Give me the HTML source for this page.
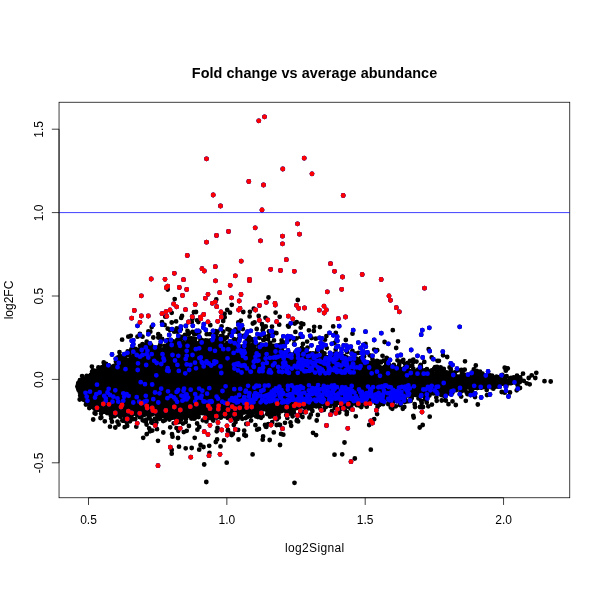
<!DOCTYPE html>
<html><head><meta charset="utf-8"><title>Fold change vs average abundance</title>
<style>html,body{margin:0;padding:0;background:#fff}body{width:600px;height:600px;position:relative;overflow:hidden;font-family:"Liberation Sans",sans-serif}</style></head>
<body>
<svg width="600" height="600" viewBox="0 0 600 600" style="position:absolute;left:0;top:0;will-change:transform">
<rect width="600" height="600" fill="#fff"/>
<polygon points="77.0,385.0 80.0,382.0 86.0,378.0 93.0,374.0 102.0,370.0 110.0,366.0 118.0,362.0 127.0,358.0 135.0,355.0 143.0,352.0 160.0,348.0 177.0,345.0 193.0,343.0 227.0,345.0 260.0,350.0 293.0,353.0 327.0,356.0 345.0,359.0 360.0,363.0 393.0,367.0 427.0,371.0 460.0,374.5 493.0,377.5 510.0,379.5 519.0,381.0 519.0,381.0 510.0,383.0 493.0,385.0 460.0,389.0 427.0,394.0 393.0,398.0 360.0,401.0 327.0,403.0 293.0,406.0 277.0,409.0 260.0,412.0 227.0,413.0 193.0,414.0 160.0,414.0 127.0,414.0 110.0,413.0 100.0,411.0 93.0,409.0 88.0,405.0 84.0,400.0 80.0,393.0 77.0,387.0" fill="#000"/>
<path d="M220.8 336.2h0M109.2 365.6h0M102.8 370.5h0M269.5 351.0h0M265.5 350.3h0M176.1 321.4h0M333.2 326.4h0M205.6 343.6h0M214.0 343.4h0M335.2 354.5h0M320.2 355.9h0M168.4 342.9h0M216.5 339.9h0M210.1 334.2h0M185.4 338.5h0M204.8 343.6h0M262.6 349.8h0M294.1 344.2h0M416.5 361.6h0M216.3 337.2h0M334.5 342.8h0M371.9 356.7h0M441.9 372.1h0M373.9 361.3h0M151.6 350.5h0M418.1 369.7h0M250.6 348.8h0M276.4 333.2h0M200.6 340.4h0M144.0 350.9h0M180.6 338.0h0M193.7 339.2h0M240.9 320.6h0M383.6 360.6h0M377.2 350.2h0M431.3 370.7h0M123.0 360.5h0M106.9 367.9h0M228.0 346.1h0M144.2 349.6h0M349.6 358.9h0M231.2 345.5h0M283.9 352.4h0M122.4 359.4h0M445.0 373.8h0M142.1 353.2h0M311.5 338.1h0M386.1 364.3h0M151.2 345.4h0M422.9 370.5h0M177.7 342.2h0M89.9 376.0h0M192.1 316.5h0M275.6 312.6h0M174.9 344.5h0M167.7 328.7h0M366.9 364.2h0M289.2 339.6h0M224.6 313.8h0M252.8 323.5h0M398.8 367.9h0M435.1 367.1h0M232.6 345.6h0M365.5 343.9h0M269.6 336.1h0M170.7 344.2h0M183.8 342.6h0M263.0 329.6h0M234.1 339.2h0M313.1 355.6h0M272.4 352.1h0M431.8 370.3h0M399.0 366.5h0M307.1 341.6h0M124.1 358.7h0M200.0 338.0h0M326.4 336.1h0M273.8 345.9h0M304.4 349.6h0M313.8 330.9h0M495.3 377.5h0M137.9 351.1h0M109.2 367.1h0M374.2 349.6h0M145.6 344.8h0M506.6 376.2h0M253.8 308.7h0M446.6 372.5h0M305.9 353.2h0M218.4 345.3h0M323.0 356.5h0M224.2 339.4h0M123.5 360.3h0M422.9 371.0h0M264.5 336.0h0M191.8 322.0h0M330.3 356.8h0M265.8 326.5h0M358.7 362.9h0M457.2 370.6h0M278.5 345.4h0M488.4 377.9h0M311.0 354.6h0M148.7 350.0h0M215.5 332.5h0M205.7 343.0h0M231.1 344.0h0M321.7 351.0h0M492.0 375.7h0M268.9 335.6h0M251.5 339.2h0M359.4 360.4h0M101.1 371.1h0M406.0 368.6h0M202.2 341.4h0M281.0 347.6h0M193.9 312.2h0M319.9 327.1h0M214.4 345.3h0M246.4 342.7h0M166.2 347.9h0M194.3 339.6h0M95.5 372.9h0M180.4 339.2h0M249.9 311.8h0M143.4 345.8h0M138.9 349.9h0M384.8 366.8h0M136.1 354.9h0M355.7 353.6h0M294.2 339.7h0M409.2 366.2h0M369.7 355.3h0M189.0 341.8h0M400.8 361.6h0M246.9 338.6h0M362.4 363.0h0M189.7 341.2h0M329.1 356.8h0M196.3 333.7h0M377.0 361.0h0M283.3 352.0h0M473.8 369.4h0M492.7 377.5h0M276.6 350.4h0M496.8 377.7h0M139.9 333.8h0M302.9 344.0h0M179.7 340.0h0M88.0 376.3h0M277.1 351.2h0M229.7 329.9h0M449.6 367.5h0M205.7 340.3h0M237.2 344.6h0M98.4 367.4h0M203.8 342.1h0M195.0 342.2h0M242.8 329.0h0M320.9 356.0h0M402.2 361.6h0M363.2 364.0h0M488.5 377.0h0M229.6 334.3h0M510.5 379.3h0M210.6 340.5h0M151.3 349.3h0M174.7 299.1h0M276.8 350.6h0M117.3 362.9h0M183.2 338.0h0M260.3 344.3h0M244.3 348.0h0M200.2 343.2h0M300.5 336.8h0M172.9 344.3h0M254.5 322.5h0M86.7 376.0h0M337.7 354.6h0M187.3 343.3h0M308.9 330.3h0M397.5 360.3h0M280.1 352.5h0M424.3 361.9h0M363.6 363.4h0M188.8 334.1h0M126.8 354.9h0M335.8 356.3h0M343.9 356.8h0M281.5 343.6h0M181.2 317.9h0M389.9 367.5h0M298.2 349.6h0M191.2 321.5h0M177.7 342.4h0M263.7 349.4h0M301.2 323.3h0M215.4 343.0h0M175.3 343.4h0M160.2 344.7h0M142.0 351.7h0M509.5 380.4h0M103.7 362.5h0M223.2 321.1h0M408.4 364.4h0M245.1 345.1h0M152.2 348.4h0M233.1 345.7h0M505.1 379.4h0M269.0 346.0h0M242.5 346.4h0M238.7 347.5h0M259.4 337.8h0M95.0 373.9h0M485.5 375.5h0M476.0 376.4h0M193.4 340.7h0M199.4 331.7h0M495.8 378.4h0M288.0 325.8h0M248.6 344.2h0M296.1 352.5h0M346.6 357.3h0M237.7 346.9h0M164.6 345.9h0M105.7 366.3h0M221.6 326.3h0M515.6 381.3h0M119.8 356.0h0M275.5 347.6h0M352.4 350.8h0M207.4 340.6h0M404.7 367.9h0M185.9 326.2h0M333.8 353.9h0M179.7 336.7h0M517.0 381.0h0M483.0 377.0h0M129.9 336.3h0M335.9 354.6h0M192.4 318.4h0M124.0 355.1h0M173.6 345.3h0M167.6 340.2h0M366.3 364.7h0M222.3 343.9h0M215.6 331.1h0M320.3 355.5h0M252.5 340.7h0M117.5 357.6h0M258.9 347.5h0M500.2 378.2h0M235.6 329.3h0M164.6 346.3h0M265.1 346.8h0M149.2 345.7h0M116.5 361.6h0M301.0 351.7h0M308.4 354.3h0M294.8 323.5h0M164.6 324.9h0M249.2 340.7h0M443.1 369.2h0M175.6 330.5h0M445.2 373.2h0M254.5 345.8h0M131.6 349.4h0M475.4 375.3h0M413.3 362.0h0M129.3 353.4h0M355.4 358.4h0M335.7 349.4h0M275.4 352.2h0M351.8 359.6h0M280.5 347.1h0M124.5 357.0h0M117.7 359.7h0M422.3 371.2h0M300.7 327.6h0M438.9 360.8h0M295.4 331.9h0M150.3 331.7h0M106.1 363.9h0M199.1 343.0h0M300.0 352.5h0M193.7 340.6h0M93.4 374.4h0M474.6 373.9h0M128.1 352.7h0M236.7 340.2h0M334.5 357.3h0M252.0 347.0h0M237.0 342.3h0M155.5 349.7h0M441.0 370.4h0M371.7 365.4h0M92.0 373.2h0M268.9 331.5h0M135.6 349.0h0M86.9 377.5h0M124.2 358.9h0M336.1 356.6h0M354.0 361.2h0M492.8 378.2h0M119.5 352.2h0M424.3 370.5h0M326.7 348.1h0M274.0 340.4h0M187.3 344.3h0M313.0 353.4h0M494.8 378.4h0M347.0 352.1h0M438.1 372.0h0M210.3 325.2h0M407.9 363.0h0M277.9 351.6h0M180.1 342.1h0M195.1 339.0h0M427.1 370.9h0M173.3 346.5h0M192.6 332.0h0M222.1 342.1h0M183.2 336.7h0M384.6 342.0h0M285.5 342.5h0M398.7 366.6h0M171.1 346.4h0M481.4 377.4h0M230.1 346.2h0M358.4 352.9h0M238.4 332.3h0M472.7 372.7h0M124.6 359.4h0M204.6 343.8h0M413.3 368.6h0M265.2 348.8h0M202.5 340.4h0M219.4 339.2h0M90.8 374.9h0M420.2 366.1h0M315.8 338.7h0M152.6 349.0h0M295.2 352.4h0M296.6 338.3h0M192.7 341.1h0M172.3 341.1h0M125.8 359.1h0M234.9 342.7h0M472.3 372.3h0M88.2 377.1h0M245.4 346.4h0M281.6 340.3h0M231.7 345.2h0M406.4 366.7h0M420.4 370.7h0M282.1 350.6h0M162.1 338.9h0M451.6 374.2h0M186.9 338.4h0M148.5 350.2h0M122.1 339.7h0M270.1 342.8h0M124.5 357.5h0M92.1 371.6h0M384.9 360.6h0M282.7 344.7h0M256.7 329.0h0M267.9 339.3h0M264.0 339.8h0M378.7 362.1h0M216.0 344.4h0M263.3 340.1h0M356.5 358.6h0M279.1 348.0h0M158.3 337.5h0M249.6 316.4h0M148.4 331.3h0M307.5 347.7h0M317.2 349.9h0M360.8 358.2h0M259.2 345.6h0M170.3 345.8h0M251.3 347.7h0M131.3 349.4h0M234.8 348.3h0M198.8 344.4h0M82.9 381.1h0M263.7 349.9h0M233.3 347.5h0M176.6 344.3h0M494.3 378.2h0M174.2 344.1h0M251.0 350.3h0M134.4 354.1h0M436.5 372.0h0M285.3 352.7h0M177.3 339.9h0M233.8 346.0h0M440.5 370.9h0M284.8 353.7h0M320.4 357.3h0M447.2 374.4h0M454.7 375.5h0M244.0 349.1h0M266.2 352.3h0M78.2 383.2h0M201.9 345.1h0M211.0 344.8h0M267.3 350.6h0M369.7 365.4h0M489.4 375.1h0M102.3 368.2h0M479.2 375.1h0M139.3 351.7h0M358.1 364.7h0M82.1 376.1h0M368.2 365.6h0M122.1 362.1h0M180.7 343.4h0M230.8 347.4h0M478.4 374.9h0M151.6 347.3h0M347.1 358.4h0M373.8 361.9h0M426.9 369.2h0M164.6 346.8h0M312.7 354.0h0M271.7 348.6h0M323.4 357.2h0M181.0 346.4h0M295.9 355.3h0M284.4 354.1h0M295.2 353.9h0M316.6 352.9h0M79.9 380.2h0M284.8 352.6h0M372.4 362.7h0M243.5 348.5h0M503.5 380.8h0M359.8 362.9h0M89.7 376.0h0M380.1 361.7h0M223.7 338.2h0M303.7 354.7h0M475.5 378.0h0M395.9 367.4h0M227.3 342.9h0M239.6 347.7h0M310.3 353.5h0M170.6 347.1h0M264.5 350.8h0M444.1 374.2h0M444.5 373.9h0M300.7 355.2h0M301.9 347.9h0M367.6 362.7h0M223.9 346.2h0M209.9 344.2h0M358.9 361.5h0M94.8 372.6h0M470.2 375.9h0M99.1 372.7h0M79.8 384.0h0M486.1 377.0h0M369.2 362.9h0M481.0 376.5h0M350.8 360.6h0M386.2 366.4h0M379.4 367.0h0M373.1 365.4h0M415.6 371.6h0M157.5 350.7h0M420.9 367.1h0M368.1 365.2h0M442.2 371.4h0M326.6 357.5h0M211.1 345.1h0M218.4 345.5h0M361.9 359.5h0M101.3 370.7h0M94.5 375.3h0M436.8 372.4h0M484.9 377.7h0M83.3 380.9h0M339.8 354.2h0M512.5 380.7h0M260.1 352.0h0M363.2 365.1h0M144.4 353.8h0M79.1 382.5h0M131.0 351.2h0M116.1 360.7h0M134.3 357.4h0M396.4 369.0h0M402.7 369.9h0M99.3 370.1h0M393.8 365.0h0M401.0 369.9h0M356.1 361.4h0M281.5 348.2h0M189.8 338.3h0M395.4 369.5h0M83.5 379.5h0M439.9 374.4h0M215.1 343.6h0M150.7 348.0h0M292.9 355.1h0M240.2 347.3h0M271.8 350.8h0M141.3 351.3h0M238.3 346.6h0M356.6 363.1h0M248.3 347.0h0M496.5 376.7h0M328.7 357.7h0M103.9 363.2h0M389.2 364.9h0M224.4 345.0h0M511.0 377.9h0M343.9 360.2h0M267.3 348.0h0M244.2 347.3h0M344.2 356.1h0M435.5 373.4h0M77.7 385.8h0M264.6 350.7h0M439.3 369.7h0M95.8 371.0h0M437.4 369.9h0M330.9 358.2h0M454.9 372.5h0M381.0 362.4h0M231.0 347.6h0M322.8 354.3h0M166.0 346.1h0M490.7 378.9h0M346.5 359.1h0M283.6 353.8h0M190.1 342.5h0M428.5 372.0h0M115.9 361.6h0M419.8 371.8h0M334.3 354.4h0M470.0 376.0h0M288.6 352.8h0M161.0 349.6h0M157.2 348.2h0M238.1 347.1h0M255.7 349.9h0M143.2 354.1h0M519.7 382.2h0M124.1 359.3h0M426.6 372.8h0M342.2 359.8h0M307.6 356.4h0M91.9 366.6h0M461.5 375.4h0M328.8 357.8h0M423.0 371.5h0M497.2 377.0h0M440.6 367.4h0M189.8 345.5h0M166.2 348.7h0M114.1 366.0h0M324.5 353.5h0M280.5 347.6h0M481.0 378.5h0M342.5 359.7h0M130.2 351.9h0M191.2 343.6h0M361.4 358.5h0M374.4 365.8h0M276.1 353.3h0M505.8 370.7h0M175.4 347.4h0M190.6 344.5h0M477.8 373.2h0M448.7 375.4h0M426.1 370.4h0M364.1 356.4h0M101.8 372.0h0M412.2 365.3h0M377.5 366.5h0M339.6 357.2h0M123.8 360.8h0M191.1 345.1h0M290.7 354.6h0M182.9 346.1h0M377.9 367.3h0M395.4 369.0h0M93.0 370.4h0M174.9 341.6h0M461.8 372.0h0M139.1 354.4h0M120.1 357.5h0M451.0 373.6h0M277.8 352.9h0M442.4 373.4h0M355.9 363.8h0M175.4 347.4h0M393.9 367.5h0M141.3 350.4h0M195.3 344.2h0M146.1 352.8h0M449.8 374.7h0M151.5 350.7h0M218.2 341.5h0M127.7 351.5h0M102.2 367.1h0M373.7 366.3h0M289.0 354.1h0M191.5 344.9h0M238.7 338.6h0M520.2 377.5h0M120.3 362.4h0M474.9 377.9h0M399.6 369.2h0M511.5 381.9h0M435.3 373.2h0M139.2 355.6h0M446.5 373.6h0M159.5 349.1h0M481.9 378.2h0M330.7 358.5h0M157.0 347.7h0M393.0 368.7h0M112.2 366.9h0M347.2 360.3h0M198.6 345.0h0M348.9 359.5h0M437.3 372.4h0M166.8 348.8h0M402.3 369.1h0M397.4 369.6h0M436.9 373.4h0M450.8 371.3h0M295.9 355.4h0M481.1 377.2h0M464.2 376.4h0M159.6 346.4h0M240.0 348.8h0M241.8 347.5h0M79.1 383.5h0M274.9 352.0h0M130.6 356.1h0M439.5 370.1h0M219.5 344.0h0M246.3 347.1h0M104.2 366.6h0M500.6 379.1h0M304.9 354.6h0M315.6 357.1h0M506.5 380.7h0M158.0 350.4h0M188.2 342.1h0M90.4 377.5h0M387.3 368.0h0M84.9 379.0h0M333.0 357.6h0M389.0 368.5h0M463.1 374.2h0M97.1 374.1h0M296.2 354.0h0M201.2 345.4h0M257.1 351.4h0M339.8 356.0h0M142.4 352.6h0M408.5 370.6h0M443.8 368.9h0M249.6 349.4h0M449.8 374.0h0M252.7 344.9h0M421.9 371.7h0M183.7 345.5h0M270.4 344.4h0M434.1 368.6h0M438.9 370.3h0M100.8 371.1h0M502.3 374.8h0M187.7 344.7h0M357.9 401.1h0M312.7 402.2h0M269.3 413.4h0M86.2 400.8h0M507.5 383.4h0M493.0 383.5h0M436.3 397.6h0M469.8 385.6h0M361.9 400.1h0M378.2 397.7h0M317.8 415.0h0M352.8 399.7h0M308.0 405.5h0M499.2 382.3h0M212.6 419.6h0M130.4 413.6h0M501.5 383.0h0M196.2 413.5h0M314.0 402.8h0M132.0 412.1h0M207.4 415.6h0M205.0 412.3h0M116.0 414.9h0M449.8 389.4h0M330.2 405.9h0M166.3 415.0h0M281.6 411.0h0M349.1 400.6h0M214.9 413.4h0M175.4 413.7h0M247.1 417.0h0M82.3 395.1h0M459.7 387.6h0M324.2 402.3h0M203.5 447.0h0M208.2 415.6h0M147.4 412.2h0M463.8 386.9h0M104.5 411.7h0M272.3 411.1h0M125.5 413.1h0M502.9 382.4h0M145.6 414.4h0M233.5 413.8h0M350.6 408.5h0M441.6 390.4h0M405.0 400.1h0M414.3 394.2h0M425.5 396.5h0M483.1 384.1h0M463.6 386.4h0M417.0 394.2h0M298.1 421.4h0M330.9 401.5h0M425.0 399.6h0M346.7 400.4h0M277.8 410.8h0M398.0 395.8h0M250.5 416.3h0M247.7 411.2h0M426.5 398.7h0M298.8 404.4h0M158.8 414.3h0M141.4 413.7h0M335.2 400.8h0M485.6 384.0h0M451.5 393.5h0M502.7 381.8h0M266.3 426.9h0M81.7 393.9h0M327.8 404.2h0M485.6 384.8h0M316.1 435.1h0M306.7 404.0h0M381.2 399.1h0M235.8 413.1h0M232.9 433.8h0M377.4 398.4h0M120.9 413.8h0M255.0 412.2h0M331.9 411.1h0M505.2 381.8h0M272.4 414.7h0M519.3 379.0h0M312.4 411.0h0M152.8 412.7h0M511.4 383.0h0M304.6 403.0h0M474.2 387.9h0M441.3 395.0h0M471.3 386.8h0M146.4 412.6h0M304.2 406.6h0M160.5 412.3h0M356.8 403.4h0M233.8 424.9h0M359.6 399.0h0M259.7 414.0h0M213.2 420.6h0M78.7 388.5h0M450.9 390.8h0M373.6 397.9h0M298.1 407.8h0M195.1 414.7h0M313.0 432.8h0M332.1 401.4h0M130.9 412.8h0M414.2 393.5h0M121.4 412.4h0M309.0 405.7h0M349.2 407.4h0M104.6 409.7h0M419.1 394.2h0M394.7 396.3h0M152.2 413.9h0M121.2 415.7h0M335.5 402.4h0M276.7 408.1h0M101.3 417.5h0M335.7 406.0h0M272.2 414.7h0M187.7 411.9h0M490.3 387.0h0M216.8 417.7h0M439.3 391.1h0M344.5 405.4h0M297.0 419.9h0M184.9 413.2h0M396.0 396.6h0M214.3 417.2h0M292.1 412.8h0M185.1 412.3h0M236.1 412.1h0M508.4 381.2h0M326.3 401.5h0M314.0 402.9h0M256.0 410.4h0M131.7 415.4h0M233.0 412.8h0M161.9 412.6h0M182.3 412.1h0M371.9 398.4h0M146.2 419.7h0M118.1 411.8h0M447.7 389.1h0M273.8 412.0h0M434.4 391.3h0M233.7 414.2h0M244.3 434.9h0M169.4 419.6h0M301.1 404.5h0M278.0 407.0h0M390.7 397.4h0M476.4 385.6h0M240.4 412.6h0M347.0 400.0h0M464.3 386.6h0M304.8 404.3h0M197.1 423.5h0M247.9 413.1h0M329.1 402.5h0M250.1 410.3h0M155.6 424.6h0M219.5 414.1h0M125.4 416.1h0M237.5 412.4h0M208.8 411.9h0M215.2 411.9h0M133.0 419.1h0M202.4 413.0h0M480.6 387.6h0M468.9 387.5h0M135.7 413.7h0M90.1 405.7h0M371.6 399.7h0M260.2 412.7h0M387.5 397.6h0M452.9 388.3h0M356.2 400.0h0M128.2 416.6h0M402.9 400.0h0M95.0 407.4h0M148.9 413.2h0M211.6 412.6h0M94.4 408.4h0M360.4 399.1h0M449.7 390.9h0M395.2 396.0h0M270.1 416.7h0M232.0 410.7h0M447.4 393.3h0M204.1 411.6h0M456.2 390.0h0M98.0 408.6h0M126.4 420.2h0M170.3 418.2h0M409.8 394.2h0M385.4 397.3h0M408.9 401.2h0M201.8 411.8h0M497.2 383.3h0M490.0 384.0h0M404.9 401.9h0M355.9 400.1h0M101.1 413.6h0M267.2 410.5h0M489.1 383.6h0M415.3 393.2h0M389.0 403.5h0M193.0 414.0h0M507.4 382.7h0M318.5 402.1h0M103.4 411.2h0M259.8 410.4h0M214.9 412.3h0M390.9 397.8h0M182.6 413.9h0M305.8 403.8h0M492.5 383.7h0M209.9 417.6h0M140.0 417.0h0M225.1 415.7h0M320.4 408.7h0M152.1 414.4h0M342.8 402.9h0M417.2 395.4h0M127.8 413.7h0M237.1 411.1h0M103.8 410.9h0M164.5 414.9h0M275.9 407.8h0M221.1 412.8h0M238.2 411.9h0M108.9 410.6h0M517.5 381.0h0M114.3 413.2h0M512.2 381.5h0M125.3 413.0h0M269.8 409.6h0M318.1 401.6h0M485.3 385.9h0M355.7 403.8h0M366.8 399.5h0M186.2 412.2h0M89.3 408.1h0M449.8 388.7h0M159.5 418.8h0M452.5 390.7h0M151.8 422.0h0M445.7 390.5h0M222.0 412.6h0M443.4 389.7h0M240.6 416.6h0M241.0 415.3h0M183.3 412.1h0M328.7 402.5h0M441.0 393.6h0M478.9 386.9h0M296.5 407.3h0M146.9 412.6h0M335.0 400.7h0M382.5 397.0h0M273.8 432.4h0M116.8 411.3h0M272.1 409.2h0M398.0 395.2h0M450.3 394.0h0M426.4 392.6h0M202.8 420.3h0M305.5 403.8h0M227.4 415.3h0M372.8 400.5h0M478.4 385.0h0M208.3 413.0h0M327.1 403.0h0M163.8 412.0h0M220.7 415.9h0M508.3 382.3h0M461.2 396.6h0M504.0 382.1h0M437.1 390.5h0M377.3 398.8h0M208.9 418.1h0M500.0 382.4h0M364.4 400.1h0M229.5 416.8h0M89.4 404.5h0M378.3 398.1h0M114.8 416.1h0M242.2 412.8h0M261.9 415.2h0M327.8 401.7h0M127.7 412.9h0M472.2 386.0h0M126.8 422.5h0M189.5 412.1h0M312.7 403.6h0M294.2 405.3h0M177.6 418.1h0M127.2 413.2h0M338.3 400.5h0M258.2 410.1h0M272.2 422.2h0M321.4 403.6h0M413.1 393.9h0M516.9 379.9h0M122.3 420.6h0M251.0 410.6h0M503.3 383.0h0M421.1 392.7h0M421.6 392.7h0M182.2 413.1h0M83.7 399.5h0M171.6 412.7h0M391.1 398.4h0M471.6 386.3h0M464.2 388.5h0M484.4 385.4h0M151.6 420.8h0M228.6 414.8h0M379.2 405.0h0M131.5 412.8h0M404.3 407.0h0M397.5 395.3h0M345.1 400.2h0M320.7 404.4h0M127.2 425.9h0M376.8 397.8h0M162.8 415.9h0M449.1 389.4h0M127.4 411.9h0M126.0 414.9h0M159.3 417.3h0M205.8 414.8h0M246.1 411.4h0M465.7 386.8h0M383.1 404.2h0M498.3 382.2h0M229.0 412.0h0M299.8 407.3h0M432.4 391.1h0M157.9 416.0h0M378.7 399.4h0M288.2 405.1h0M452.2 389.4h0M464.6 387.1h0M110.7 412.6h0M173.0 417.7h0M338.6 400.3h0M152.4 412.9h0M284.7 410.6h0M249.2 411.3h0M79.7 391.9h0M225.2 410.9h0M281.0 433.9h0M97.1 408.2h0M374.9 398.9h0M198.4 413.7h0M193.4 418.5h0M311.5 408.2h0M517.5 379.2h0M325.9 403.6h0M464.3 390.2h0M358.1 400.6h0M238.1 413.0h0M430.1 393.9h0M493.8 384.9h0M212.0 415.4h0M405.4 397.3h0M359.0 399.6h0M321.5 404.0h0M103.8 410.2h0M220.5 446.4h0M290.8 405.1h0M185.1 413.8h0M232.1 411.1h0M80.2 395.5h0M278.2 408.0h0M329.5 402.5h0M152.0 412.0h0M210.9 414.2h0M399.6 396.3h0M493.2 383.6h0M486.0 384.3h0M112.5 411.8h0M334.7 408.1h0M235.5 422.2h0M267.2 414.0h0M107.1 413.0h0M476.2 385.1h0M191.3 412.0h0M150.1 412.5h0M389.8 397.2h0M254.4 410.6h0M344.7 409.4h0M364.8 398.7h0M402.8 408.8h0M343.9 399.9h0M436.4 397.3h0M228.5 411.2h0M160.6 417.1h0M465.7 387.1h0M486.8 384.1h0M222.1 414.9h0M365.1 400.8h0M378.5 397.8h0M102.5 411.4h0M97.2 409.2h0M225.5 416.2h0M342.4 400.4h0M282.7 405.8h0M487.8 384.0h0M515.5 379.7h0M349.6 401.7h0M223.1 411.7h0M146.3 412.2h0M417.6 393.3h0M438.4 390.7h0M316.2 406.4h0M323.4 403.1h0M344.1 401.7h0M406.0 394.7h0M392.9 402.2h0M421.5 392.9h0M420.0 407.0h0M278.2 407.4h0M309.4 417.4h0M135.5 411.8h0M288.2 410.9h0M420.7 393.1h0M516.3 379.7h0M412.9 393.6h0M89.4 404.3h0M103.7 410.5h0M323.5 402.1h0M494.2 383.0h0M143.3 413.0h0M404.6 398.3h0M149.0 412.0h0M422.5 392.7h0M513.2 381.1h0M359.4 399.6h0M432.4 393.1h0M220.8 417.7h0M124.9 418.7h0M106.1 411.6h0M255.4 425.2h0M103.6 410.7h0M259.0 428.9h0M496.6 383.0h0M176.5 413.9h0M193.5 413.4h0M179.7 413.5h0M414.1 394.8h0M209.5 452.9h0M173.2 414.0h0M146.6 424.6h0M463.0 386.7h0M410.7 400.8h0M202.5 412.7h0M292.6 416.3h0M148.7 414.5h0M342.3 402.8h0M334.2 404.2h0M170.2 427.3h0M237.0 414.7h0M460.3 387.3h0M460.6 391.9h0M209.1 411.5h0M126.5 418.9h0M81.2 398.3h0M144.0 414.9h0M120.3 412.3h0M380.1 397.1h0M227.8 430.5h0M395.1 399.0h0M512.0 380.4h0M181.2 416.1h0M383.1 396.9h0M301.1 403.6h0M268.1 409.2h0M85.9 404.5h0M217.5 427.9h0M130.5 413.2h0M137.3 415.2h0M156.5 414.6h0M142.7 420.3h0M299.3 403.5h0M234.0 416.0h0M484.9 384.1h0M172.5 436.7h0M469.1 386.9h0M198.2 413.2h0M194.5 412.0h0M96.2 410.2h0M258.2 412.1h0M238.0 410.5h0M382.5 398.5h0M318.5 405.7h0M383.5 403.2h0M465.1 389.5h0M254.3 411.0h0M263.1 436.5h0M248.9 411.5h0M259.0 411.0h0M520.3 378.8h0M346.9 412.2h0M190.1 414.5h0M244.4 412.4h0M165.1 412.1h0M451.3 392.7h0M480.4 384.4h0M385.2 398.3h0M363.9 399.8h0M217.1 439.5h0M77.4 386.6h0M455.9 389.4h0M340.0 409.3h0M181.1 419.3h0M407.0 394.9h0M393.2 398.0h0M310.7 404.1h0M377.7 399.0h0M356.2 400.4h0M176.1 418.8h0M194.6 418.6h0M287.1 412.4h0M308.8 403.6h0M175.2 412.9h0M488.7 383.9h0M309.6 406.3h0M438.1 390.4h0M153.5 423.3h0M281.4 408.3h0M444.4 396.2h0M462.3 386.6h0M246.3 424.0h0M440.1 390.0h0M145.3 413.7h0M122.6 412.4h0M433.6 393.3h0M278.0 406.8h0M252.6 454.4h0M385.6 397.4h0M289.4 413.6h0M413.9 393.6h0M379.0 399.2h0M308.2 403.0h0M241.6 413.6h0M246.2 410.3h0M166.2 417.8h0M102.6 409.6h0M395.9 396.9h0M220.9 411.8h0M447.4 389.0h0M359.4 402.2h0M166.5 415.7h0M428.8 392.8h0M242.0 410.7h0M273.5 408.6h0M393.4 397.3h0M258.1 412.7h0M437.0 391.7h0M248.1 412.6h0M487.6 383.9h0M508.3 381.7h0M242.3 418.8h0M223.3 411.1h0M412.7 395.4h0M310.5 403.6h0M477.2 388.0h0M88.4 404.0h0M282.4 409.7h0M449.8 388.9h0M287.3 417.9h0M272.3 409.4h0M304.2 412.2h0M374.6 399.7h0M255.3 410.3h0M378.8 398.4h0M418.5 398.4h0M129.4 412.3h0M111.2 418.4h0M122.2 411.7h0M411.5 397.0h0M101.4 410.7h0M392.7 398.8h0M101.3 410.7h0M262.6 416.0h0M520.2 379.6h0M464.1 386.7h0M225.4 412.9h0M79.7 399.5h0M199.0 412.5h0M216.0 413.5h0M458.3 387.9h0M303.9 405.8h0M99.7 409.2h0M461.8 391.0h0M457.3 387.5h0M166.7 412.2h0M315.4 402.7h0M283.1 409.9h0M336.2 401.1h0M432.8 391.7h0M485.2 384.4h0M99.7 410.1h0M313.7 403.0h0M327.8 402.7h0M198.5 416.3h0M206.4 421.4h0M433.3 391.9h0M278.8 424.7h0M274.5 412.6h0M102.6 411.6h0M360.8 398.8h0M460.0 387.0h0M341.8 400.3h0M486.5 385.3h0M432.5 391.8h0M376.2 402.5h0M207.9 412.0h0M449.2 388.9h0M484.5 384.0h0M121.8 412.0h0M425.2 396.0h0M261.1 417.8h0M191.4 418.5h0M381.5 397.6h0M102.2 410.9h0M95.5 413.7h0M207.4 412.1h0M335.4 402.2h0M325.9 401.2h0M481.9 385.0h0M450.5 388.4h0M431.9 404.6h0M250.8 410.2h0M245.7 418.1h0M176.2 413.9h0M118.6 414.4h0M400.3 395.8h0M378.4 397.7h0M444.9 389.2h0M487.0 395.1h0M494.1 383.2h0M206.1 414.9h0M410.2 394.8h0M489.8 383.4h0M292.2 408.0h0M342.4 403.7h0M116.3 411.4h0M197.4 429.7h0M452.4 388.2h0M487.5 383.5h0M342.9 405.9h0M229.9 433.4h0M368.5 398.1h0M224.9 415.6h0M186.8 415.6h0M156.4 422.3h0M209.4 411.5h0M325.3 401.5h0M321.9 404.1h0M341.4 403.0h0M92.0 406.8h0M120.2 416.6h0M135.6 413.7h0M233.7 414.3h0M371.4 398.1h0M152.3 430.6h0M224.2 416.1h0M464.8 387.9h0M143.2 412.0h0M467.3 386.2h0M297.3 404.9h0M129.2 415.3h0M149.8 413.6h0M302.0 405.5h0M164.8 413.1h0M167.3 412.8h0M183.5 417.4h0M299.8 415.3h0M83.7 399.8h0M293.9 412.4h0M330.3 402.7h0M178.8 422.1h0M145.2 412.5h0M90.7 406.5h0M307.0 403.2h0M472.4 385.5h0M333.9 400.9h0M341.3 407.4h0M392.6 395.9h0M186.1 418.8h0M513.4 380.1h0M351.5 405.0h0M438.7 390.5h0M436.9 392.4h0M485.9 383.7h0M494.5 383.6h0M257.8 410.1h0M185.7 422.0h0M378.4 397.4h0M229.9 411.9h0M165.0 412.4h0M224.0 440.4h0M519.8 379.5h0M290.0 408.2h0M423.0 395.5h0M410.6 397.8h0M165.4 414.3h0M452.5 392.5h0M118.0 413.5h0M232.0 412.0h0M505.8 381.9h0M408.0 394.6h0M444.8 392.2h0M478.7 387.6h0M446.6 390.6h0M339.1 402.9h0M443.4 391.1h0M463.6 387.3h0M503.7 382.0h0M497.0 382.6h0M507.0 382.0h0M188.9 426.0h0M180.0 412.4h0M280.3 407.9h0M295.7 408.3h0M381.3 402.5h0M251.1 414.3h0M429.4 395.5h0M495.1 383.7h0M257.4 410.6h0M366.7 401.2h0M227.8 417.9h0M448.3 390.3h0M79.0 390.2h0M84.3 398.2h0M437.7 392.0h0M345.5 400.7h0M225.9 412.7h0M234.0 415.8h0M352.0 400.9h0M116.1 411.7h0M388.3 398.8h0M370.5 400.6h0M130.6 418.3h0M95.4 409.6h0M158.7 414.0h0M502.2 382.0h0M176.5 428.1h0M347.9 403.4h0M252.1 415.3h0M501.4 382.3h0M515.9 379.8h0M445.8 389.1h0M311.1 402.2h0M154.9 418.8h0M278.8 417.5h0M188.4 413.0h0M121.8 415.6h0M459.8 387.5h0M244.2 430.7h0M473.8 386.1h0M110.7 415.2h0M274.2 415.4h0M237.6 418.9h0M357.6 399.8h0M308.8 408.4h0M479.8 385.0h0M238.5 439.5h0M102.3 411.8h0M380.5 400.6h0M275.8 410.5h0M472.7 388.4h0M409.9 393.9h0M221.4 412.1h0M500.1 383.4h0M141.2 417.4h0M333.1 400.5h0M251.1 420.6h0M361.8 399.2h0M415.5 394.5h0M318.7 402.6h0M511.3 382.0h0M434.4 392.1h0M245.9 435.7h0M392.1 397.8h0M200.2 413.0h0M332.4 403.6h0M429.4 392.9h0M139.1 413.4h0M466.6 386.5h0M404.8 394.7h0M215.5 411.6h0M209.1 412.7h0M506.3 386.4h0M160.1 412.7h0M496.0 382.9h0M219.5 412.7h0M125.1 413.3h0M251.9 411.4h0M504.8 381.9h0M167.6 417.9h0M276.9 419.3h0M359.9 401.4h0M216.8 412.4h0M413.1 394.3h0M325.1 406.6h0M411.2 394.1h0M238.1 429.9h0M312.0 402.8h0M356.8 400.4h0M419.5 392.7h0M444.0 391.9h0M234.0 418.5h0M194.9 414.0h0M108.0 411.6h0M411.7 398.2h0M260.3 414.3h0M126.4 413.7h0M363.3 404.3h0M358.5 404.5h0M420.9 393.2h0M494.5 385.2h0M228.7 412.2h0M434.7 392.1h0M159.5 416.9h0M313.1 405.9h0M374.2 401.4h0M136.3 414.3h0M106.3 410.9h0M299.9 413.6h0M373.5 399.0h0M256.2 416.4h0M198.6 417.1h0M427.1 398.3h0M144.1 414.4h0M411.8 396.4h0M475.9 386.8h0M406.9 401.3h0M365.1 401.9h0M135.3 419.1h0M389.5 397.6h0M199.1 412.2h0M344.9 402.8h0M198.2 413.6h0M176.4 412.1h0M377.1 414.1h0M433.1 391.4h0M387.5 396.6h0M449.3 388.8h0M78.5 389.8h0M138.6 412.5h0M103.2 411.8h0M323.4 404.1h0M94.6 413.1h0M126.1 412.2h0M356.5 401.0h0M224.0 413.3h0M173.7 423.3h0M169.8 416.5h0M436.1 393.0h0M90.5 406.4h0M89.6 406.1h0M265.2 409.1h0M356.7 405.1h0M336.7 401.1h0M304.4 407.6h0M177.5 417.2h0M519.1 380.9h0M503.8 381.8h0M514.9 379.8h0M289.2 404.8h0M278.6 414.2h0M391.5 396.9h0M228.7 412.4h0M255.9 410.8h0M163.2 421.1h0M306.2 403.8h0M164.8 420.3h0M164.3 412.6h0M325.8 407.0h0M509.0 381.7h0M498.0 386.7h0M397.8 397.2h0M104.9 410.7h0M82.8 397.3h0M397.6 399.6h0M194.1 413.0h0M149.7 418.4h0M517.2 379.4h0M96.6 408.5h0M234.7 417.0h0M434.2 392.8h0M122.4 411.7h0M145.3 421.4h0M286.2 415.1h0M481.8 387.6h0M288.5 408.2h0M134.0 412.5h0M327.2 402.1h0M169.9 413.9h0M86.4 403.1h0M392.3 408.8h0M512.4 380.6h0M402.2 396.8h0M437.5 392.4h0M136.4 411.9h0M172.0 414.1h0M245.2 410.3h0M445.7 390.7h0M282.9 406.0h0M471.7 386.1h0M108.5 412.2h0M354.3 402.9h0M292.1 409.7h0M168.3 412.5h0M479.2 385.6h0M123.2 413.2h0M133.1 413.1h0M279.6 408.4h0M359.6 404.6h0M272.2 407.8h0M398.7 395.4h0M286.0 406.2h0M375.8 403.1h0M183.5 414.7h0M384.3 399.5h0M139.9 417.2h0M343.0 400.1h0M182.9 423.6h0M178.6 415.5h0M426.9 394.1h0M358.5 405.3h0M94.0 407.2h0M510.4 383.1h0M93.9 407.1h0M183.8 432.1h0M174.5 414.7h0M490.1 385.2h0M485.2 384.0h0M145.1 411.9h0M413.2 393.6h0M509.1 382.8h0M160.0 415.9h0M149.3 416.5h0M124.0 414.5h0M472.0 391.4h0M78.0 388.2h0M323.8 409.9h0M300.1 405.1h0M341.0 407.8h0M111.5 411.0h0M319.2 403.3h0M253.2 410.0h0M407.8 394.2h0M445.4 390.9h0M280.3 407.0h0M365.6 398.7h0M267.5 409.4h0M510.5 381.1h0M233.5 411.4h0M401.2 397.8h0M453.7 388.1h0M240.2 411.4h0M415.5 393.8h0M346.3 406.3h0M418.3 392.8h0M110.3 411.0h0M384.5 400.7h0M307.9 403.7h0M257.9 417.0h0M365.0 402.5h0M402.3 401.6h0M482.3 385.5h0M395.2 395.7h0M379.3 400.2h0M268.3 424.2h0M156.8 418.8h0M273.1 416.3h0M189.2 412.8h0M231.7 413.7h0M119.1 412.4h0M512.5 381.8h0M490.9 384.1h0M448.5 404.2h0M411.2 394.1h0M187.9 415.9h0M86.3 400.9h0M470.5 391.8h0M222.9 415.1h0M421.1 400.8h0M429.8 392.3h0M123.6 420.7h0M216.3 413.9h0M240.0 416.4h0M505.7 381.4h0M167.7 289.5h0M171.7 312.8h0M165.3 316.7h0M182.0 316.0h0M196.0 312.0h0M162.0 322.2h0M171.7 322.5h0M151.7 327.0h0M197.0 320.3h0M198.3 322.0h0M128.3 336.7h0M130.8 335.8h0M137.5 336.7h0M142.5 336.7h0M153.3 337.5h0M158.3 334.2h0M160.0 335.8h0M174.2 331.7h0M176.7 328.3h0M187.5 330.8h0M188.3 332.5h0M193.3 332.5h0M268.5 297.5h0M297.8 300.0h0M216.3 299.5h0M231.8 304.8h0M227.2 309.8h0M230.0 312.7h0M243.3 312.0h0M224.7 317.3h0M258.7 316.0h0M265.5 317.8h0M279.7 316.8h0M296.7 322.2h0M303.3 324.2h0M279.2 324.7h0M272.0 326.7h0M288.7 326.7h0M262.0 324.2h0M263.0 326.7h0M238.3 322.5h0M262.7 330.0h0M275.0 332.8h0M217.5 331.7h0M223.3 331.7h0M222.5 335.8h0M236.7 331.7h0M240.0 336.7h0M243.3 335.8h0M249.2 337.5h0M226.7 337.5h0M314.2 326.8h0M392.8 330.2h0M335.8 332.8h0M352.5 333.7h0M325.0 339.7h0M345.8 340.0h0M93.2 419.5h0M100.5 418.0h0M104.8 421.3h0M112.0 421.7h0M117.5 421.7h0M118.7 424.5h0M110.0 426.7h0M115.3 427.5h0M124.7 427.2h0M130.0 421.3h0M136.3 426.7h0M145.8 421.7h0M149.2 428.3h0M150.0 431.3h0M146.7 434.2h0M143.2 437.8h0M158.0 440.8h0M157.0 429.2h0M151.3 422.5h0M163.3 432.5h0M172.0 434.2h0M178.0 438.0h0M194.7 437.8h0M199.3 427.0h0M215.8 442.0h0M200.5 445.0h0M209.2 445.8h0M199.2 449.7h0M179.0 446.7h0M185.7 448.3h0M191.7 448.0h0M171.7 450.0h0M171.7 453.7h0M204.2 464.5h0M226.7 462.7h0M206.3 482.0h0M231.7 435.0h0M245.5 435.8h0M257.2 429.7h0M216.7 431.3h0M228.0 430.0h0M178.3 430.8h0M186.7 430.8h0M310.8 414.7h0M302.5 417.0h0M316.7 420.5h0M296.7 420.8h0M290.5 422.5h0M291.2 425.8h0M285.0 422.8h0M283.3 434.7h0M262.7 439.7h0M269.7 440.0h0M280.0 445.0h0M265.0 425.0h0M265.8 426.7h0M276.7 425.0h0M280.0 425.0h0M344.5 442.5h0M334.5 454.7h0M342.2 454.3h0M354.8 458.5h0M294.5 482.8h0M346.7 414.2h0M355.8 416.3h0M339.2 412.5h0M374.2 419.2h0M369.2 425.0h0M370.8 449.7h0M413.3 415.8h0M413.7 417.5h0M429.7 416.7h0M422.7 425.0h0M419.7 427.5h0M414.7 404.2h0M415.0 407.0h0M421.7 403.0h0M423.0 407.0h0M428.3 406.3h0M390.8 407.5h0M377.5 407.0h0M400.0 405.0h0M455.8 405.0h0M426.7 402.5h0M436.7 400.8h0M441.7 400.5h0M445.8 400.5h0M452.5 401.3h0M388.3 404.2h0M395.8 406.3h0M361.3 407.0h0M366.7 406.7h0M465.0 361.3h0M475.8 365.5h0M504.7 367.7h0M507.8 368.3h0M523.0 373.7h0M536.3 372.8h0M531.7 375.3h0M528.7 378.0h0M535.3 378.0h0M517.0 375.7h0M513.7 377.5h0M544.5 381.2h0M550.7 381.5h0M523.7 380.8h0M526.7 383.3h0M529.7 384.3h0M519.7 380.0h0M517.5 385.0h0M520.0 388.0h0M516.7 390.3h0M510.0 392.5h0M501.7 392.0h0M504.7 392.7h0M493.3 388.7h0M486.7 390.0h0M474.2 393.3h0M475.0 397.0h0M467.5 394.2h0M465.8 400.8h0M477.8 404.5h0M466.7 392.5h0M470.8 389.2h0M463.3 390.0h0M461.3 370.0h0M464.7 369.7h0M476.7 370.8h0M480.0 371.7h0M478.3 374.2h0M482.5 373.7h0M474.2 375.0h0M470.0 376.7h0M465.0 375.0h0M461.7 376.7h0M463.3 380.0h0M468.3 380.0h0M473.3 380.0h0M478.3 380.0h0M483.3 380.0h0M488.3 380.0h0M493.3 380.0h0M498.3 380.0h0M503.3 380.0h0M508.3 380.8h0M511.7 381.7h0M462.5 383.3h0M467.5 384.2h0M472.5 383.3h0M477.5 384.2h0M482.5 383.3h0M487.5 383.3h0M492.5 383.7h0M497.5 383.3h0M502.5 383.7h0M507.5 383.7h0M490.0 377.5h0M495.0 377.5h0M500.0 378.0h0M505.0 378.3h0M510.0 379.2h0M485.0 377.5h0M465.0 386.7h0M470.0 386.7h0M476.7 387.5h0M483.3 387.0h0M495.8 386.7h0M491.7 386.7h0M398.0 341.3h0M396.2 348.0h0M428.7 349.2h0M443.0 355.3h0M447.2 357.0h0M437.5 360.8h0M431.7 357.5h0M382.5 355.8h0M386.7 358.0h0M376.7 362.5h0M372.5 359.2h0M403.3 360.0h0M410.0 360.8h0M413.3 359.7h0M405.0 363.7h0M399.2 364.7h0M420.8 365.0h0M437.0 367.0h0M450.8 369.2h0M180.8 329.2h0M170.0 330.0h0M177.5 331.7h0M194.2 334.2h0M185.0 335.0h0M191.7 338.3h0M206.7 334.2h0M216.7 333.3h0M227.5 329.2h0M142.5 344.2h0M140.0 345.8h0M146.7 341.7h0M258.8 120.8h0M264.5 116.8h0M206.5 158.8h0M304.2 158.2h0M282.8 169.0h0M312.0 173.8h0M248.8 181.5h0M263.5 185.0h0M213.2 195.0h0M220.5 206.0h0M262.0 210.0h0M297.5 223.8h0M255.2 227.8h0M228.5 231.5h0M216.5 235.5h0M299.5 234.2h0M282.5 236.2h0M206.5 242.2h0M260.5 240.8h0M282.5 243.8h0M343.2 195.5h0M187.3 255.5h0M202.0 268.7h0M204.3 271.0h0M174.3 273.3h0M151.2 279.0h0M165.0 279.3h0M183.5 279.7h0M166.3 287.7h0M167.7 286.2h0M179.3 287.5h0M186.7 289.5h0M182.5 295.5h0M141.3 295.8h0M208.0 294.3h0M205.3 298.3h0M173.7 304.0h0M176.7 306.8h0M195.2 304.5h0M185.5 309.7h0M134.3 310.5h0M170.0 310.0h0M166.0 311.7h0M162.0 313.7h0M166.8 316.3h0M141.3 316.0h0M148.3 316.0h0M131.7 318.2h0M140.0 322.3h0M192.3 316.8h0M203.7 314.5h0M200.5 317.2h0M200.8 318.8h0M188.5 322.0h0M208.0 321.8h0M286.3 259.7h0M241.2 261.2h0M215.3 266.7h0M270.7 269.3h0M280.5 270.5h0M294.3 271.3h0M235.3 275.8h0M249.5 279.3h0M249.5 280.7h0M215.5 280.8h0M230.2 285.3h0M219.7 292.7h0M241.0 294.5h0M231.5 297.8h0M239.2 301.0h0M215.3 301.8h0M212.3 303.3h0M216.7 306.7h0M266.3 302.3h0M275.0 303.3h0M275.3 305.0h0M259.5 305.5h0M296.5 305.3h0M298.7 308.3h0M304.5 308.0h0M240.0 308.3h0M238.7 310.0h0M255.5 310.0h0M221.0 312.0h0M221.3 317.0h0M217.7 321.3h0M288.3 316.2h0M292.8 318.8h0M259.3 320.3h0M267.8 320.0h0M276.7 321.7h0M330.5 263.7h0M334.5 271.3h0M342.5 277.0h0M362.2 274.5h0M381.2 279.5h0M341.7 289.3h0M327.3 291.8h0M389.0 296.0h0M390.5 300.3h0M324.0 306.2h0M319.3 310.2h0M326.3 310.0h0M324.2 313.0h0M396.3 307.7h0M399.3 311.8h0M345.5 317.0h0M338.3 318.7h0M424.5 288.2h0M158.0 465.7h0M97.0 407.8h0M115.3 413.0h0M128.3 411.2h0M131.7 412.8h0M139.7 413.3h0M127.2 419.0h0M137.2 423.3h0M155.3 411.3h0M155.3 425.5h0M225.0 414.2h0M234.7 414.2h0M216.3 416.2h0M205.0 417.8h0M230.8 420.3h0M218.0 422.5h0M176.7 421.2h0M175.8 422.8h0M210.0 425.3h0M227.0 425.8h0M247.8 423.8h0M180.2 428.3h0M221.7 430.0h0M235.3 429.5h0M204.2 431.7h0M208.0 434.5h0M227.3 435.0h0M170.3 447.2h0M190.8 457.2h0M209.0 455.7h0M220.0 454.3h0M286.7 407.2h0M294.2 405.8h0M295.8 404.2h0M299.2 405.0h0M303.7 404.2h0M300.3 410.8h0M305.8 412.0h0M261.3 413.0h0M287.0 415.3h0M297.5 415.5h0M275.3 418.3h0M271.0 425.0h0M282.5 428.7h0M327.5 403.7h0M321.3 410.3h0M330.5 414.7h0M335.8 413.3h0M337.5 409.2h0M343.3 408.3h0M341.2 403.7h0M348.3 404.2h0M352.5 409.7h0M358.3 403.7h0M326.5 425.5h0M347.8 428.3h0M351.0 461.7h0M365.8 403.7h0M370.0 403.7h0M376.3 410.3h0M392.2 405.0h0M370.8 420.8h0M372.5 423.0h0M422.0 412.0h0M230.7 341.6h0M297.8 353.5h0M255.3 338.8h0M341.6 358.0h0M280.6 346.7h0M345.2 358.4h0M288.0 350.5h0M311.5 345.3h0M307.9 356.3h0M259.8 347.0h0M296.0 351.5h0M276.5 345.6h0M331.8 343.8h0M298.7 350.3h0M255.8 342.5h0M285.9 352.1h0M319.6 355.1h0M280.7 351.8h0M309.1 355.8h0M354.5 355.2h0M346.2 350.3h0M336.2 355.2h0M265.9 344.7h0M347.5 348.8h0M244.9 342.6h0M261.9 345.0h0M310.2 335.8h0M346.5 361.9h0M283.5 346.2h0M303.3 354.4h0M244.6 337.0h0M299.2 349.9h0M338.3 355.7h0M338.2 356.2h0M335.4 357.0h0M318.2 347.5h0M406.7 366.8h0M321.7 343.7h0M353.1 363.6h0M294.6 344.6h0M284.4 352.7h0M488.1 371.4h0M303.6 354.0h0M352.9 363.6h0M316.7 355.9h0M352.0 354.3h0M335.8 355.0h0M245.6 335.3h0M363.6 360.6h0M363.1 354.3h0M337.4 340.8h0M325.6 345.1h0M337.4 355.5h0M287.8 336.1h0M331.3 359.0h0M287.2 338.9h0M322.6 344.0h0M363.1 350.9h0M230.1 341.4h0M261.3 334.6h0M350.3 359.2h0M343.7 345.4h0M244.3 346.0h0M349.6 358.7h0M366.9 362.1h0M270.8 331.1h0M318.1 349.6h0M239.9 338.6h0M306.7 350.5h0M293.3 338.1h0M350.8 346.7h0M354.1 358.7h0M342.1 356.4h0M331.1 353.9h0M291.6 354.6h0M341.6 349.2h0M346.4 345.7h0M334.5 359.3h0M336.6 353.6h0M290.6 355.1h0M330.1 356.7h0M341.3 352.6h0M232.9 332.1h0M361.6 353.2h0M358.3 342.6h0M360.5 348.0h0M234.7 343.2h0M321.9 347.4h0M312.4 354.4h0M239.2 341.1h0M365.1 362.7h0M325.9 358.1h0M298.1 354.9h0M336.5 358.8h0M284.8 346.2h0M246.7 333.5h0M319.6 337.8h0M338.1 346.2h0M238.5 346.1h0M320.7 342.8h0M238.4 345.4h0M330.0 353.0h0M297.3 349.8h0M347.2 346.7h0M354.3 355.5h0M336.4 347.3h0M321.9 338.3h0M239.7 335.3h0M239.6 328.4h0M287.0 342.1h0M275.5 351.5h0M351.6 353.6h0M391.1 395.7h0M434.8 390.5h0M389.1 400.0h0M376.7 398.7h0M377.2 399.9h0M445.7 396.0h0M361.9 400.7h0M355.1 399.7h0M374.3 400.6h0M362.4 399.4h0M409.1 393.6h0M316.2 401.2h0M403.5 395.8h0M378.8 397.9h0M380.9 397.5h0M396.6 394.6h0M474.3 394.5h0M361.5 399.5h0M420.9 396.2h0M347.8 399.0h0M392.1 395.5h0M397.3 400.0h0M347.0 399.3h0M382.0 400.7h0M475.2 393.5h0M365.6 400.5h0M393.6 398.1h0M382.5 399.2h0M393.0 395.3h0M398.6 396.6h0M453.5 390.7h0M388.2 398.7h0M372.3 397.0h0M426.9 394.3h0M398.0 395.0h0M459.8 394.2h0M393.3 396.9h0M356.7 398.4h0M378.7 396.5h0M353.8 401.0h0M451.3 394.6h0M404.6 396.7h0M400.7 398.4h0M320.7 401.1h0M380.2 397.9h0M427.3 398.4h0M437.4 393.7h0M408.6 395.1h0M340.8 400.3h0M341.3 399.3h0M331.3 401.8h0M506.0 390.8h0M322.6 402.0h0M308.1 401.7h0M391.3 400.4h0M451.5 391.5h0M355.6 398.8h0M365.9 398.8h0M381.5 400.6h0M344.6 401.3h0M397.8 397.4h0M362.4 399.7h0M366.0 397.7h0M421.3 395.2h0M309.1 402.3h0M470.6 395.1h0M376.9 397.9h0M375.9 396.6h0M389.0 399.8h0M436.6 392.2h0M356.6 400.5h0M396.6 397.9h0M351.6 399.0h0M355.5 399.2h0M382.7 396.7h0M360.8 399.9h0M397.5 398.0h0M343.5 400.1h0M397.1 399.4h0M390.7 399.4h0M399.2 394.3h0M341.0 401.0h0M366.8 398.5h0M137.5 325.8h0M153.0 325.0h0M162.2 324.7h0M172.0 329.2h0M180.8 326.7h0M185.8 325.8h0M192.8 325.8h0M203.8 324.2h0M140.0 335.0h0M148.3 334.2h0M180.0 330.8h0M196.7 330.8h0M205.8 330.0h0M203.3 327.5h0M238.3 324.7h0M242.0 325.5h0M290.8 323.3h0M220.8 329.2h0M213.0 330.8h0M234.2 330.8h0M247.5 331.7h0M250.8 330.8h0M257.5 334.2h0M263.7 333.3h0M272.0 331.3h0M272.5 335.8h0M283.3 336.3h0M290.8 336.7h0M300.8 334.2h0M302.5 336.7h0M231.7 335.8h0M213.3 337.5h0M339.2 326.2h0M353.2 330.2h0M365.5 331.7h0M381.3 333.2h0M329.5 332.8h0M333.3 335.3h0M337.2 336.7h0M336.7 339.7h0M374.2 340.0h0M459.7 326.8h0M429.3 327.8h0M422.3 330.2h0M421.2 334.7h0M376.7 401.7h0M384.2 401.7h0M396.7 401.3h0M400.8 403.3h0M404.2 400.5h0M373.3 400.8h0M410.0 400.5h0M468.0 374.7h0M471.7 373.0h0M485.8 375.5h0M501.5 375.3h0M514.5 382.3h0M517.8 388.7h0M474.2 385.8h0M480.7 387.0h0M489.2 386.7h0M499.7 386.7h0M505.8 386.7h0M490.0 394.5h0M481.2 397.5h0M508.5 396.5h0M460.0 388.0h0M388.3 343.8h0M411.2 350.0h0M429.7 351.2h0M442.8 351.7h0M417.5 355.8h0M422.7 357.5h0M433.3 359.2h0M450.8 363.3h0M452.5 365.0h0M457.0 368.7h0M363.3 345.0h0M365.8 346.7h0M367.5 352.5h0M375.8 351.3h0M372.5 355.8h0M362.5 358.0h0M397.5 355.8h0M400.8 355.0h0M390.0 360.0h0M388.3 363.0h0M392.5 366.7h0M396.7 368.3h0M404.2 369.2h0M420.0 367.5h0M427.5 373.7h0M453.3 375.0h0M169.2 335.0h0M178.3 335.8h0M198.3 330.8h0M185.0 338.3h0M199.2 336.7h0M213.3 335.8h0M220.8 339.2h0M131.7 340.8h0M133.3 344.2h0M150.0 343.3h0M160.8 341.7h0M165.8 340.8h0M170.8 340.0h0M179.2 343.3h0M187.5 345.8h0M201.7 342.5h0M212.5 340.0h0M133.3 351.7h0M145.8 347.5h0M147.5 350.8h0M155.0 347.5h0M171.7 345.0h0M180.0 345.8h0M220.8 345.8h0M136.7 355.0h0M142.5 355.0h0M133.3 340.3h0M132.5 345.8h0M141.7 350.0h0M112.0 354.5h0M124.2 354.2h0M127.5 352.8h0M115.8 358.8h0M118.7 363.0h0M108.3 365.3h0" fill="none" stroke="#000" stroke-width="4.8" stroke-linecap="round"/>
<path d="M258.8 120.8h0M264.5 116.8h0M206.5 158.8h0M304.2 158.2h0M282.8 169.0h0M312.0 173.8h0M248.8 181.5h0M263.5 185.0h0M213.2 195.0h0M220.5 206.0h0M262.0 210.0h0M297.5 223.8h0M255.2 227.8h0M228.5 231.5h0M216.5 235.5h0M299.5 234.2h0M282.5 236.2h0M206.5 242.2h0M260.5 240.8h0M282.5 243.8h0M343.2 195.5h0M187.3 255.5h0M202.0 268.7h0M204.3 271.0h0M174.3 273.3h0M151.2 279.0h0M165.0 279.3h0M183.5 279.7h0M166.3 287.7h0M167.7 286.2h0M179.3 287.5h0M186.7 289.5h0M182.5 295.5h0M141.3 295.8h0M208.0 294.3h0M205.3 298.3h0M173.7 304.0h0M176.7 306.8h0M195.2 304.5h0M185.5 309.7h0M134.3 310.5h0M170.0 310.0h0M166.0 311.7h0M162.0 313.7h0M166.8 316.3h0M141.3 316.0h0M148.3 316.0h0M131.7 318.2h0M140.0 322.3h0M192.3 316.8h0M203.7 314.5h0M200.5 317.2h0M200.8 318.8h0M188.5 322.0h0M208.0 321.8h0M286.3 259.7h0M241.2 261.2h0M215.3 266.7h0M270.7 269.3h0M280.5 270.5h0M294.3 271.3h0M235.3 275.8h0M249.5 279.3h0M249.5 280.7h0M215.5 280.8h0M230.2 285.3h0M219.7 292.7h0M241.0 294.5h0M231.5 297.8h0M239.2 301.0h0M215.3 301.8h0M212.3 303.3h0M216.7 306.7h0M266.3 302.3h0M275.0 303.3h0M275.3 305.0h0M259.5 305.5h0M296.5 305.3h0M298.7 308.3h0M304.5 308.0h0M240.0 308.3h0M238.7 310.0h0M255.5 310.0h0M221.0 312.0h0M221.3 317.0h0M217.7 321.3h0M288.3 316.2h0M292.8 318.8h0M259.3 320.3h0M267.8 320.0h0M276.7 321.7h0M330.5 263.7h0M334.5 271.3h0M342.5 277.0h0M362.2 274.5h0M381.2 279.5h0M341.7 289.3h0M327.3 291.8h0M389.0 296.0h0M390.5 300.3h0M324.0 306.2h0M319.3 310.2h0M326.3 310.0h0M324.2 313.0h0M396.3 307.7h0M399.3 311.8h0M345.5 317.0h0M338.3 318.7h0M424.5 288.2h0M158.0 465.7h0M97.0 407.8h0M103.3 404.0h0M109.0 404.3h0M122.0 405.0h0M121.0 407.0h0M115.3 413.0h0M128.3 411.2h0M131.7 412.8h0M139.7 413.3h0M127.2 419.0h0M137.2 423.3h0M141.2 403.3h0M146.7 405.8h0M147.2 408.0h0M152.2 408.0h0M152.8 410.5h0M155.3 411.3h0M155.3 425.5h0M174.3 407.0h0M165.8 410.5h0M180.3 410.0h0M190.3 406.7h0M196.3 404.2h0M208.3 405.8h0M210.0 408.7h0M218.7 405.8h0M218.3 409.2h0M227.5 403.7h0M232.2 406.7h0M228.0 409.7h0M235.0 408.7h0M239.7 407.8h0M246.7 404.2h0M246.7 407.5h0M251.7 407.0h0M225.0 414.2h0M234.7 414.2h0M216.3 416.2h0M205.0 417.8h0M230.8 420.3h0M218.0 422.5h0M176.7 421.2h0M175.8 422.8h0M210.0 425.3h0M227.0 425.8h0M247.8 423.8h0M180.2 428.3h0M221.7 430.0h0M235.3 429.5h0M204.2 431.7h0M208.0 434.5h0M227.3 435.0h0M170.3 447.2h0M190.8 457.2h0M209.0 455.7h0M220.0 454.3h0M277.2 403.7h0M286.7 407.2h0M294.2 405.8h0M295.8 404.2h0M299.2 405.0h0M303.7 404.2h0M300.3 410.8h0M305.8 412.0h0M261.3 413.0h0M287.0 415.3h0M297.5 415.5h0M275.3 418.3h0M271.0 425.0h0M282.5 428.7h0M327.5 403.7h0M321.3 410.3h0M330.5 414.7h0M335.8 413.3h0M337.5 409.2h0M343.3 408.3h0M341.2 403.7h0M348.3 404.2h0M352.5 409.7h0M358.3 403.7h0M326.5 425.5h0M347.8 428.3h0M351.0 461.7h0M365.8 403.7h0M370.0 403.7h0M376.3 410.3h0M392.2 405.0h0M370.8 420.8h0M372.5 423.0h0M422.0 412.0h0M328.3 372.2h0M206.9 362.7h0M354.2 367.5h0M230.7 341.6h0M255.4 360.1h0M196.0 368.3h0M297.8 353.5h0M306.2 361.1h0M294.8 365.8h0M255.3 338.8h0M350.8 367.1h0M320.0 373.3h0M238.4 363.4h0M341.6 358.0h0M164.1 360.5h0M280.6 346.7h0M345.2 358.4h0M201.7 362.1h0M274.6 363.3h0M288.0 350.5h0M353.2 364.3h0M237.7 350.7h0M311.5 345.3h0M199.4 358.1h0M329.3 367.7h0M195.0 362.7h0M167.7 368.1h0M298.6 362.3h0M324.2 363.5h0M307.9 356.3h0M259.8 347.0h0M296.0 351.5h0M283.1 355.5h0M359.7 368.0h0M245.7 358.2h0M246.9 368.4h0M262.6 371.2h0M276.5 345.6h0M331.8 343.8h0M335.5 369.0h0M240.7 350.3h0M298.7 350.3h0M346.5 370.1h0M323.0 370.9h0M255.8 342.5h0M285.9 352.1h0M325.2 359.8h0M286.4 371.8h0M186.7 364.4h0M315.1 372.6h0M189.2 370.0h0M319.6 355.1h0M282.3 356.2h0M280.7 351.8h0M309.1 355.8h0M354.5 355.2h0M273.5 357.6h0M346.2 350.3h0M286.0 365.6h0M353.7 372.4h0M336.2 355.2h0M306.2 371.2h0M305.1 364.8h0M259.3 371.3h0M331.7 369.8h0M336.9 372.0h0M286.6 370.2h0M265.9 344.7h0M286.8 355.5h0M177.4 364.9h0M347.5 348.8h0M244.9 342.6h0M161.3 364.0h0M278.1 366.9h0M261.9 345.0h0M310.2 335.8h0M346.5 361.9h0M283.5 346.2h0M303.3 354.4h0M299.8 367.4h0M244.6 337.0h0M299.2 349.9h0M338.3 355.7h0M302.2 359.3h0M338.2 356.2h0M335.4 357.0h0M318.2 347.5h0M406.7 366.8h0M344.4 371.5h0M321.7 343.7h0M216.3 362.0h0M353.1 363.6h0M347.0 364.3h0M281.7 355.4h0M266.6 354.1h0M294.6 344.6h0M282.1 372.0h0M284.4 352.7h0M244.2 365.2h0M319.6 361.3h0M488.1 371.4h0M185.3 373.3h0M244.0 350.8h0M285.2 362.7h0M310.0 362.4h0M303.6 354.0h0M348.6 367.8h0M238.5 365.0h0M288.3 367.1h0M307.7 362.7h0M352.9 363.6h0M316.7 355.9h0M328.7 367.3h0M319.7 360.6h0M307.5 361.4h0M253.9 366.9h0M244.9 365.9h0M309.7 362.2h0M288.9 372.9h0M178.8 370.9h0M283.7 358.7h0M289.0 356.1h0M263.1 367.5h0M352.0 354.3h0M262.2 368.7h0M335.8 355.0h0M258.6 355.2h0M319.6 370.5h0M253.8 361.7h0M328.8 370.2h0M245.6 335.3h0M272.9 365.3h0M291.9 368.6h0M296.6 367.4h0M303.1 365.6h0M363.6 360.6h0M336.8 365.6h0M345.7 370.1h0M343.7 362.3h0M363.1 354.3h0M168.7 371.0h0M337.4 340.8h0M319.2 368.2h0M253.5 366.3h0M325.6 345.1h0M317.9 367.5h0M337.4 355.5h0M287.8 336.1h0M319.1 370.6h0M266.8 362.9h0M331.2 370.1h0M185.7 359.0h0M331.3 359.0h0M346.3 363.0h0M336.8 370.2h0M310.4 361.7h0M268.8 372.2h0M320.2 368.5h0M298.4 363.5h0M244.8 352.8h0M334.7 367.9h0M258.5 360.6h0M278.4 356.6h0M287.2 338.9h0M279.0 371.5h0M322.6 344.0h0M313.7 357.8h0M351.8 366.4h0M313.2 362.8h0M316.7 360.8h0M363.1 350.9h0M298.9 365.8h0M282.7 367.3h0M344.9 372.5h0M234.4 368.5h0M244.7 365.3h0M230.1 341.4h0M287.3 370.3h0M261.3 334.6h0M208.8 363.5h0M350.3 359.2h0M336.4 364.0h0M214.3 363.6h0M346.4 365.4h0M343.7 345.4h0M291.5 357.7h0M244.3 346.0h0M349.6 358.7h0M366.9 362.1h0M311.6 367.6h0M262.9 363.8h0M297.8 372.8h0M202.4 363.1h0M327.4 364.8h0M321.9 369.3h0M312.0 370.0h0M270.8 331.1h0M241.7 352.8h0M318.1 349.6h0M343.8 364.2h0M276.0 357.5h0M328.6 360.5h0M239.9 338.6h0M306.7 350.5h0M293.3 338.1h0M211.2 365.5h0M321.4 362.1h0M301.4 369.0h0M261.3 370.7h0M257.2 360.9h0M350.8 346.7h0M250.9 371.8h0M354.1 358.7h0M342.1 356.4h0M331.1 353.9h0M291.6 354.6h0M341.6 349.2h0M329.0 359.5h0M346.4 345.7h0M334.5 359.3h0M336.6 353.6h0M302.9 366.0h0M290.6 355.1h0M330.1 356.7h0M233.6 352.9h0M163.5 358.5h0M341.3 352.6h0M238.0 370.4h0M232.9 332.1h0M304.5 371.0h0M361.6 353.2h0M314.3 365.4h0M334.7 370.4h0M358.3 342.6h0M302.8 363.3h0M360.5 348.0h0M350.7 372.4h0M312.0 362.8h0M214.4 361.5h0M345.0 363.6h0M234.7 343.2h0M190.4 364.8h0M321.9 347.4h0M312.4 354.4h0M283.1 363.1h0M255.5 356.8h0M269.9 357.8h0M239.2 341.1h0M203.7 366.4h0M302.0 369.0h0M297.5 367.4h0M365.1 362.7h0M360.6 366.2h0M341.0 365.7h0M167.1 370.6h0M242.9 355.9h0M304.3 371.3h0M325.9 358.1h0M298.1 354.9h0M333.6 361.7h0M336.5 358.8h0M220.5 366.4h0M284.8 346.2h0M246.7 333.5h0M221.3 373.0h0M250.5 371.6h0M206.5 361.5h0M319.6 337.8h0M338.1 346.2h0M275.7 356.9h0M265.6 358.5h0M238.5 346.1h0M236.4 364.0h0M259.8 369.2h0M298.1 358.1h0M320.7 342.8h0M338.8 371.1h0M338.2 364.4h0M328.4 363.5h0M271.1 372.5h0M309.3 370.9h0M342.0 372.7h0M238.4 345.4h0M340.2 365.4h0M327.1 364.2h0M356.9 367.4h0M299.5 361.5h0M310.0 367.7h0M241.6 372.5h0M330.0 353.0h0M341.1 372.1h0M297.3 349.8h0M329.0 373.1h0M340.3 370.6h0M347.2 346.7h0M354.3 355.5h0M175.0 360.5h0M256.7 353.5h0M303.2 360.6h0M336.4 347.3h0M241.3 365.7h0M315.3 365.0h0M325.4 373.3h0M328.8 359.8h0M321.9 338.3h0M239.7 335.3h0M349.8 372.0h0M239.6 328.4h0M287.0 342.1h0M275.5 351.5h0M233.9 364.6h0M269.7 370.2h0M307.2 365.5h0M351.6 353.6h0M177.6 391.1h0M195.2 394.1h0M248.1 385.8h0M308.8 390.4h0M312.5 388.1h0M391.1 395.7h0M256.3 385.7h0M434.8 390.5h0M391.1 392.3h0M168.0 391.3h0M376.0 394.5h0M161.2 388.7h0M325.6 387.6h0M342.1 387.2h0M352.7 391.9h0M277.0 400.4h0M329.6 396.8h0M343.2 390.2h0M407.6 392.6h0M389.1 400.0h0M287.9 385.9h0M298.4 391.8h0M325.7 388.4h0M244.4 399.2h0M308.9 385.3h0M266.1 402.3h0M284.3 402.1h0M376.7 398.7h0M236.5 402.5h0M327.7 386.9h0M377.2 399.9h0M252.2 401.4h0M185.5 395.2h0M445.7 396.0h0M299.1 394.7h0M201.6 395.6h0M345.7 388.7h0M303.0 387.9h0M361.9 400.7h0M355.1 399.7h0M317.6 394.2h0M298.3 398.4h0M329.1 399.6h0M261.2 391.0h0M289.6 394.4h0M320.0 389.5h0M277.1 390.3h0M330.0 395.9h0M287.4 400.2h0M399.3 387.6h0M374.3 400.6h0M299.6 396.6h0M362.4 399.4h0M203.5 401.5h0M361.5 395.9h0M363.9 394.6h0M348.9 395.5h0M282.1 402.5h0M375.2 395.4h0M409.1 393.6h0M371.2 390.4h0M316.6 390.2h0M246.1 400.6h0M197.1 397.7h0M393.7 393.1h0M395.4 392.0h0M350.9 389.9h0M201.0 397.9h0M345.2 395.4h0M320.0 394.3h0M316.2 401.2h0M431.7 385.8h0M403.5 395.8h0M312.2 394.1h0M332.5 397.8h0M378.3 387.3h0M295.3 392.4h0M405.3 386.7h0M338.1 396.4h0M346.6 391.9h0M378.8 397.9h0M331.6 394.6h0M329.9 394.6h0M407.7 390.3h0M275.7 390.4h0M384.0 390.6h0M367.1 396.7h0M321.9 397.8h0M317.1 394.7h0M259.1 385.9h0M244.3 403.0h0M380.9 397.5h0M331.4 399.7h0M248.9 401.2h0M396.6 394.6h0M327.8 390.7h0M249.9 402.0h0M474.3 394.5h0M378.6 393.0h0M361.5 399.5h0M379.3 387.0h0M249.9 402.6h0M420.9 396.2h0M370.9 389.1h0M238.3 401.0h0M247.6 400.9h0M327.0 393.8h0M293.8 391.3h0M323.6 388.6h0M274.7 395.5h0M170.8 395.9h0M271.7 391.6h0M292.2 398.5h0M381.5 387.2h0M190.7 389.7h0M347.8 399.0h0M392.1 395.5h0M383.4 387.3h0M254.3 387.6h0M254.1 395.5h0M199.1 388.6h0M397.3 400.0h0M366.5 393.2h0M209.3 401.5h0M346.1 391.2h0M347.0 399.3h0M337.0 387.2h0M305.9 399.8h0M176.6 391.9h0M373.1 387.2h0M407.0 387.6h0M299.7 393.3h0M338.0 394.7h0M348.3 391.0h0M359.0 389.5h0M382.0 400.7h0M385.0 385.5h0M475.2 393.5h0M301.0 393.5h0M365.6 400.5h0M265.1 400.3h0M393.6 398.1h0M291.3 399.6h0M382.5 399.2h0M186.6 399.4h0M393.0 395.3h0M336.2 394.8h0M330.1 393.3h0M398.6 396.6h0M331.6 387.6h0M262.7 390.4h0M304.3 392.7h0M385.9 385.5h0M332.9 389.8h0M317.1 391.7h0M379.4 394.8h0M364.8 395.9h0M167.4 398.2h0M453.5 390.7h0M255.1 395.8h0M388.2 398.7h0M175.6 399.3h0M308.8 400.1h0M324.3 391.9h0M184.4 397.2h0M345.4 387.4h0M372.3 397.0h0M269.2 396.6h0M426.9 394.3h0M332.7 391.9h0M301.5 398.9h0M202.3 390.7h0M371.7 394.5h0M309.8 391.4h0M296.3 399.7h0M345.4 397.1h0M266.5 395.4h0M182.4 400.7h0M398.0 395.0h0M387.9 393.2h0M297.2 390.9h0M459.8 394.2h0M253.5 402.3h0M332.3 387.9h0M393.3 396.9h0M398.9 388.0h0M340.8 390.3h0M300.6 386.5h0M289.1 401.0h0M331.2 396.5h0M356.7 398.4h0M390.9 393.7h0M265.0 395.9h0M352.3 391.0h0M209.3 388.2h0M222.5 391.0h0M313.1 390.8h0M299.7 388.9h0M427.9 387.0h0M378.7 396.5h0M390.6 393.7h0M371.6 396.0h0M353.3 398.1h0M327.1 395.0h0M181.4 395.6h0M350.0 393.9h0M316.3 400.5h0M319.1 397.6h0M245.5 391.8h0M370.9 392.3h0M229.9 400.3h0M273.5 394.6h0M239.2 395.0h0M271.4 398.2h0M233.6 400.8h0M218.0 398.7h0M381.9 386.5h0M353.8 401.0h0M425.6 389.4h0M451.3 394.6h0M332.1 392.1h0M315.2 389.7h0M211.4 401.2h0M404.6 396.7h0M174.0 397.4h0M400.7 398.4h0M320.7 401.1h0M380.2 397.9h0M307.4 395.7h0M272.7 393.4h0M184.9 399.3h0M319.2 399.0h0M260.6 402.3h0M361.8 392.0h0M268.5 397.8h0M427.3 398.4h0M348.8 389.4h0M437.4 393.7h0M327.6 393.4h0M388.6 387.0h0M316.4 388.1h0M240.2 388.9h0M338.7 393.5h0M383.8 392.9h0M323.8 386.0h0M268.6 394.9h0M335.4 398.7h0M406.4 390.1h0M283.1 393.1h0M341.3 393.3h0M314.7 399.6h0M408.6 395.1h0M288.2 386.2h0M438.1 386.7h0M322.5 397.6h0M390.8 392.8h0M297.2 387.2h0M211.6 401.9h0M340.8 400.3h0M408.3 389.8h0M341.3 399.3h0M331.3 401.8h0M341.0 398.8h0M305.4 401.3h0M368.3 395.0h0M257.4 394.2h0M188.1 397.6h0M506.0 390.8h0M349.4 393.3h0M322.6 402.0h0M308.3 400.1h0M308.1 401.7h0M310.2 398.8h0M320.7 400.4h0M391.3 400.4h0M451.5 391.5h0M183.5 390.8h0M299.4 402.2h0M178.2 389.8h0M370.5 394.5h0M305.7 398.8h0M280.8 397.8h0M355.6 398.8h0M238.1 402.0h0M185.4 399.2h0M289.9 396.1h0M204.8 401.6h0M365.9 398.8h0M283.1 394.0h0M408.4 385.3h0M396.4 391.4h0M325.0 391.4h0M264.8 385.7h0M322.5 395.2h0M383.0 394.7h0M262.2 399.7h0M343.1 392.1h0M360.4 392.5h0M394.8 392.0h0M323.9 399.8h0M207.1 393.7h0M381.5 400.6h0M313.4 393.5h0M344.6 401.3h0M351.7 386.0h0M196.4 398.0h0M397.8 397.4h0M368.0 396.5h0M304.6 401.5h0M287.4 395.1h0M253.8 398.4h0M370.0 390.7h0M186.6 394.5h0M275.8 388.5h0M362.4 399.7h0M402.0 386.8h0M366.0 397.7h0M250.9 400.2h0M279.0 392.0h0M298.0 393.4h0M276.5 402.3h0M260.8 395.7h0M246.0 402.9h0M390.8 387.3h0M301.9 399.7h0M309.4 394.7h0M255.3 393.2h0M244.2 397.1h0M276.1 400.6h0M318.6 394.7h0M292.6 397.1h0M257.8 396.3h0M421.3 395.2h0M309.1 402.3h0M211.8 401.8h0M323.3 399.7h0M249.4 393.1h0M470.6 395.1h0M376.9 397.9h0M311.7 390.7h0M287.9 389.6h0M346.3 395.2h0M232.3 399.3h0M335.5 397.4h0M334.2 385.4h0M269.7 401.3h0M356.0 396.2h0M271.9 400.3h0M225.6 386.3h0M375.9 396.6h0M414.0 386.3h0M389.0 399.8h0M398.9 392.6h0M350.4 396.8h0M310.5 400.0h0M393.7 391.7h0M281.5 390.1h0M436.6 392.2h0M393.1 389.8h0M222.2 401.7h0M263.6 390.0h0M293.9 387.6h0M263.8 400.6h0M318.4 398.2h0M423.3 389.5h0M356.6 400.5h0M248.8 396.2h0M436.5 387.0h0M396.6 397.9h0M271.6 400.9h0M351.6 399.0h0M331.8 385.6h0M337.7 398.2h0M368.0 386.6h0M235.9 397.6h0M184.1 388.7h0M291.6 385.5h0M324.9 387.5h0M283.0 400.5h0M257.2 386.1h0M177.1 401.8h0M224.9 402.9h0M399.1 387.6h0M250.6 402.2h0M275.9 391.2h0M355.5 399.2h0M279.7 396.1h0M255.5 398.9h0M382.7 396.7h0M431.3 387.0h0M273.4 398.9h0M279.3 394.0h0M360.8 399.9h0M232.0 398.1h0M397.5 398.0h0M313.6 391.6h0M343.5 400.1h0M242.2 400.5h0M287.7 402.4h0M397.1 399.4h0M299.8 401.6h0M401.4 392.0h0M405.0 388.6h0M292.0 394.7h0M377.4 396.0h0M334.4 389.4h0M301.4 396.9h0M195.1 401.6h0M318.1 385.1h0M291.5 394.3h0M430.4 390.3h0M321.6 394.9h0M342.7 388.3h0M390.7 399.4h0M269.4 396.8h0M399.2 394.3h0M356.8 398.1h0M409.8 388.3h0M341.0 401.0h0M293.0 399.8h0M273.8 390.2h0M321.5 389.2h0M216.6 396.7h0M366.8 398.5h0M332.9 387.4h0M234.3 389.2h0M355.8 396.9h0M354.4 392.6h0M269.1 394.3h0M268.6 385.5h0M279.4 386.7h0M273.9 391.5h0M245.9 390.7h0M279.7 395.2h0M137.5 325.8h0M153.0 325.0h0M162.2 324.7h0M172.0 329.2h0M180.8 326.7h0M185.8 325.8h0M192.8 325.8h0M203.8 324.2h0M140.0 335.0h0M148.3 334.2h0M180.0 330.8h0M196.7 330.8h0M205.8 330.0h0M203.3 327.5h0M238.3 324.7h0M242.0 325.5h0M290.8 323.3h0M220.8 329.2h0M213.0 330.8h0M234.2 330.8h0M247.5 331.7h0M250.8 330.8h0M257.5 334.2h0M263.7 333.3h0M272.0 331.3h0M272.5 335.8h0M283.3 336.3h0M290.8 336.7h0M300.8 334.2h0M302.5 336.7h0M231.7 335.8h0M213.3 337.5h0M339.2 326.2h0M353.2 330.2h0M365.5 331.7h0M381.3 333.2h0M329.5 332.8h0M333.3 335.3h0M337.2 336.7h0M336.7 339.7h0M374.2 340.0h0M459.7 326.8h0M429.3 327.8h0M422.3 330.2h0M421.2 334.7h0M87.5 400.8h0M105.8 400.8h0M112.5 401.7h0M118.3 401.7h0M123.3 400.8h0M133.3 402.5h0M139.2 401.7h0M145.0 401.3h0M376.7 401.7h0M384.2 401.7h0M396.7 401.3h0M400.8 403.3h0M404.2 400.5h0M373.3 400.8h0M410.0 400.5h0M468.0 374.7h0M471.7 373.0h0M485.8 375.5h0M501.5 375.3h0M514.5 382.3h0M517.8 388.7h0M474.2 385.8h0M480.7 387.0h0M489.2 386.7h0M499.7 386.7h0M505.8 386.7h0M490.0 394.5h0M481.2 397.5h0M508.5 396.5h0M460.0 388.0h0M388.3 343.8h0M411.2 350.0h0M429.7 351.2h0M442.8 351.7h0M417.5 355.8h0M422.7 357.5h0M433.3 359.2h0M450.8 363.3h0M452.5 365.0h0M457.0 368.7h0M363.3 345.0h0M365.8 346.7h0M367.5 352.5h0M375.8 351.3h0M372.5 355.8h0M362.5 358.0h0M397.5 355.8h0M400.8 355.0h0M390.0 360.0h0M388.3 363.0h0M369.2 367.5h0M392.5 366.7h0M371.7 373.3h0M377.0 371.7h0M380.0 375.8h0M388.0 373.3h0M396.7 368.3h0M404.2 369.2h0M407.0 375.3h0M410.8 373.0h0M417.5 373.7h0M420.0 367.5h0M423.7 373.7h0M427.5 373.7h0M453.3 375.0h0M443.7 383.0h0M169.2 335.0h0M178.3 335.8h0M198.3 330.8h0M185.0 338.3h0M199.2 336.7h0M213.3 335.8h0M220.8 339.2h0M131.7 340.8h0M133.3 344.2h0M150.0 343.3h0M160.8 341.7h0M165.8 340.8h0M170.8 340.0h0M179.2 343.3h0M187.5 345.8h0M201.7 342.5h0M212.5 340.0h0M133.3 351.7h0M145.8 347.5h0M147.5 350.8h0M155.0 347.5h0M171.7 345.0h0M180.0 345.8h0M195.8 349.2h0M199.2 348.3h0M210.0 349.2h0M215.0 350.8h0M220.8 345.8h0M223.3 349.2h0M228.3 349.2h0M136.7 355.0h0M142.5 355.0h0M151.7 354.2h0M162.5 354.2h0M172.5 355.0h0M178.3 355.8h0M186.7 350.8h0M186.7 355.8h0M192.5 355.0h0M200.8 357.5h0M227.5 358.3h0M133.3 340.3h0M132.5 345.8h0M141.7 350.0h0M112.0 354.5h0M124.2 354.2h0M127.5 352.8h0M115.8 358.8h0M140.0 356.7h0M146.7 354.2h0M148.3 357.5h0M154.2 360.8h0M156.7 363.0h0M118.7 363.0h0M108.3 365.3h0M117.5 367.2h0M125.5 369.2h0M138.0 363.3h0M146.2 365.0h0M137.7 370.0h0M156.3 375.3h0M140.7 382.2h0M145.0 384.2h0M152.2 384.5h0M97.0 384.7h0M85.5 392.8h0M90.0 391.7h0M86.7 396.7h0M95.0 397.5h0M96.3 394.2h0M99.7 392.5h0M108.7 388.8h0M115.3 390.3h0M107.5 392.5h0M104.2 395.8h0M105.8 398.3h0M110.0 395.0h0M113.3 396.7h0M117.5 398.3h0M123.3 393.3h0M126.7 394.2h0M128.7 395.8h0M124.2 396.7h0M136.7 397.2h0M145.8 395.8h0M155.0 392.5h0M159.5 393.3h0M146.7 400.8h0M143.3 402.5h0M153.3 399.2h0M158.3 402.5h0" fill="none" stroke="#0000ff" stroke-width="4.8" stroke-linecap="round"/>
<path d="M258.8 120.8h0M264.5 116.8h0M206.5 158.8h0M304.2 158.2h0M282.8 169.0h0M312.0 173.8h0M248.8 181.5h0M263.5 185.0h0M213.2 195.0h0M220.5 206.0h0M262.0 210.0h0M297.5 223.8h0M255.2 227.8h0M228.5 231.5h0M216.5 235.5h0M299.5 234.2h0M282.5 236.2h0M206.5 242.2h0M260.5 240.8h0M282.5 243.8h0M343.2 195.5h0M187.3 255.5h0M202.0 268.7h0M204.3 271.0h0M174.3 273.3h0M151.2 279.0h0M165.0 279.3h0M183.5 279.7h0M166.3 287.7h0M167.7 286.2h0M179.3 287.5h0M186.7 289.5h0M182.5 295.5h0M141.3 295.8h0M208.0 294.3h0M205.3 298.3h0M173.7 304.0h0M176.7 306.8h0M195.2 304.5h0M185.5 309.7h0M134.3 310.5h0M170.0 310.0h0M166.0 311.7h0M162.0 313.7h0M166.8 316.3h0M141.3 316.0h0M148.3 316.0h0M131.7 318.2h0M140.0 322.3h0M192.3 316.8h0M203.7 314.5h0M200.5 317.2h0M200.8 318.8h0M188.5 322.0h0M208.0 321.8h0M286.3 259.7h0M241.2 261.2h0M215.3 266.7h0M270.7 269.3h0M280.5 270.5h0M294.3 271.3h0M235.3 275.8h0M249.5 279.3h0M249.5 280.7h0M215.5 280.8h0M230.2 285.3h0M219.7 292.7h0M241.0 294.5h0M231.5 297.8h0M239.2 301.0h0M215.3 301.8h0M212.3 303.3h0M216.7 306.7h0M266.3 302.3h0M275.0 303.3h0M275.3 305.0h0M259.5 305.5h0M296.5 305.3h0M298.7 308.3h0M304.5 308.0h0M240.0 308.3h0M238.7 310.0h0M255.5 310.0h0M221.0 312.0h0M221.3 317.0h0M217.7 321.3h0M288.3 316.2h0M292.8 318.8h0M259.3 320.3h0M267.8 320.0h0M276.7 321.7h0M330.5 263.7h0M334.5 271.3h0M342.5 277.0h0M362.2 274.5h0M381.2 279.5h0M341.7 289.3h0M327.3 291.8h0M389.0 296.0h0M390.5 300.3h0M324.0 306.2h0M319.3 310.2h0M326.3 310.0h0M324.2 313.0h0M396.3 307.7h0M399.3 311.8h0M345.5 317.0h0M338.3 318.7h0M424.5 288.2h0M158.0 465.7h0M97.0 407.8h0M103.3 404.0h0M109.0 404.3h0M122.0 405.0h0M121.0 407.0h0M115.3 413.0h0M128.3 411.2h0M131.7 412.8h0M139.7 413.3h0M127.2 419.0h0M137.2 423.3h0M141.2 403.3h0M146.7 405.8h0M147.2 408.0h0M152.2 408.0h0M152.8 410.5h0M155.3 411.3h0M155.3 425.5h0M174.3 407.0h0M165.8 410.5h0M180.3 410.0h0M190.3 406.7h0M196.3 404.2h0M208.3 405.8h0M210.0 408.7h0M218.7 405.8h0M218.3 409.2h0M227.5 403.7h0M232.2 406.7h0M228.0 409.7h0M235.0 408.7h0M239.7 407.8h0M246.7 404.2h0M246.7 407.5h0M251.7 407.0h0M225.0 414.2h0M234.7 414.2h0M216.3 416.2h0M205.0 417.8h0M230.8 420.3h0M218.0 422.5h0M176.7 421.2h0M175.8 422.8h0M210.0 425.3h0M227.0 425.8h0M247.8 423.8h0M180.2 428.3h0M221.7 430.0h0M235.3 429.5h0M204.2 431.7h0M208.0 434.5h0M227.3 435.0h0M170.3 447.2h0M190.8 457.2h0M209.0 455.7h0M220.0 454.3h0M277.2 403.7h0M286.7 407.2h0M294.2 405.8h0M295.8 404.2h0M299.2 405.0h0M303.7 404.2h0M300.3 410.8h0M305.8 412.0h0M261.3 413.0h0M287.0 415.3h0M297.5 415.5h0M275.3 418.3h0M271.0 425.0h0M282.5 428.7h0M327.5 403.7h0M321.3 410.3h0M330.5 414.7h0M335.8 413.3h0M337.5 409.2h0M343.3 408.3h0M341.2 403.7h0M348.3 404.2h0M352.5 409.7h0M358.3 403.7h0M326.5 425.5h0M347.8 428.3h0M351.0 461.7h0M365.8 403.7h0M370.0 403.7h0M376.3 410.3h0M392.2 405.0h0M370.8 420.8h0M372.5 423.0h0M422.0 412.0h0" fill="none" stroke="#ff0000" stroke-width="4.8" stroke-linecap="round"/>
<g stroke="#000" stroke-width="0.75" fill="none">
<rect x="59.04" y="102.24" width="510.72" height="395.52"/>
</g>
<line x1="59.04" x2="569.76" y1="212.60" y2="212.60" stroke="#0000ff" stroke-width="0.75"/>
<g stroke="#000" stroke-width="0.75" fill="none">
<line x1="88.50" x2="503.55" y1="497.76" y2="497.76"/>
<line x1="88.50" x2="88.50" y1="497.76" y2="504.96"/>
<line x1="226.85" x2="226.85" y1="497.76" y2="504.96"/>
<line x1="365.20" x2="365.20" y1="497.76" y2="504.96"/>
<line x1="503.55" x2="503.55" y1="497.76" y2="504.96"/>
<line x1="59.04" x2="59.04" y1="462.80" y2="129.20"/>
<line x1="51.84" x2="59.04" y1="462.80" y2="462.80"/>
<line x1="51.84" x2="59.04" y1="379.40" y2="379.40"/>
<line x1="51.84" x2="59.04" y1="296.00" y2="296.00"/>
<line x1="51.84" x2="59.04" y1="212.60" y2="212.60"/>
<line x1="51.84" x2="59.04" y1="129.20" y2="129.20"/>
</g>
<g font-family="Liberation Sans, sans-serif" font-size="12" fill="#000" text-anchor="middle">
<text x="88.50" y="524.3">0.5</text>
<text x="226.85" y="524.3">1.0</text>
<text x="365.20" y="524.3">1.5</text>
<text x="503.55" y="524.3">2.0</text>
<text transform="translate(42.6 463.00) rotate(-90)">-0.5</text>
<text transform="translate(42.6 379.60) rotate(-90)">0.0</text>
<text transform="translate(42.6 296.20) rotate(-90)">0.5</text>
<text transform="translate(42.6 212.80) rotate(-90)">1.0</text>
<text transform="translate(42.6 129.40) rotate(-90)">1.5</text>
<text x="314.6" y="552" textLength="59" lengthAdjust="spacing">log2Signal</text>
<text transform="translate(13.4 300) rotate(-90)">log2FC</text>
<text x="314.5" y="77.9" font-size="14.4" font-weight="bold" textLength="245.4" lengthAdjust="spacing">Fold change vs average abundance</text>
</g></svg>
</body></html>
